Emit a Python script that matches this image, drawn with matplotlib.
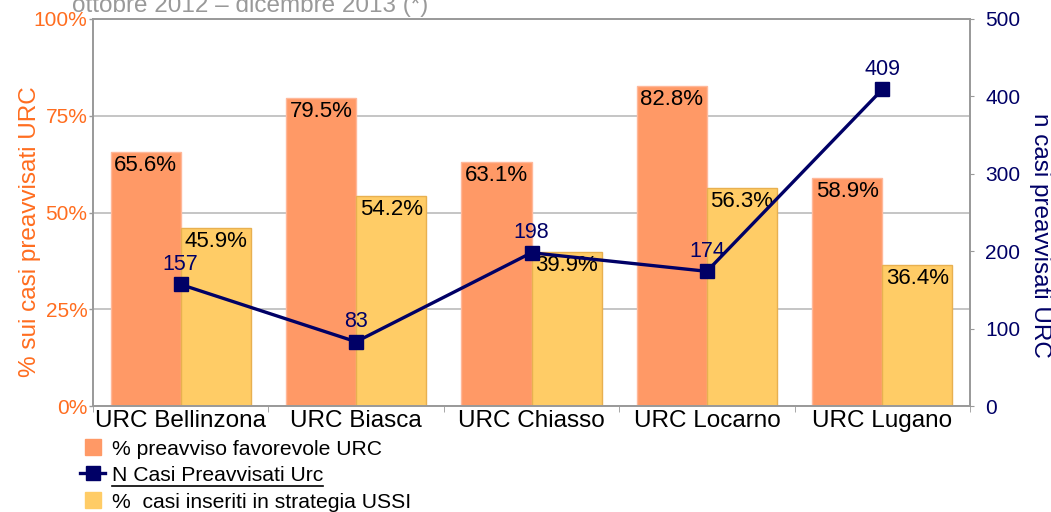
import matplotlib.pyplot as plt
import numpy as np
from matplotlib.lines import Line2D

categories = ["URC Bellinzona", "URC Biasca", "URC Chiasso", "URC Locarno", "URC Lugano"]
pct_favorevole = [65.6, 79.5, 63.1, 82.8, 58.9]
pct_ussi = [45.9, 54.2, 39.9, 56.3, 36.4]
n_casi = [157, 83, 198, 174, 409]

ORANGE = "#FF9966"
YELLOW = "#FFCC66"
NAVY = "#000066"
AXIS_ORANGE = "#FF6D1F"

plt.rcParams['font.family'] = ['Liberation Sans', 'DejaVu Sans']

fig = plt.figure(figsize=(10.51, 5.12), dpi=100)
ax = fig.add_axes([93 / 1051, 106 / 512, 877 / 1051, 387 / 512])
ax2 = ax.twinx()

x = np.arange(len(categories))
w = 0.4

ax.bar(x - w / 2, pct_favorevole, w, color=ORANGE, edgecolor="#FFB89A", linewidth=1, zorder=2)
ax.bar(x + w / 2, pct_ussi, w, color=YELLOW, edgecolor="#E8B050", linewidth=1, zorder=2)

for i in range(len(categories)):
    ax.text(x[i] - w / 2, pct_favorevole[i] - 0.8, f"{pct_favorevole[i]:.1f}%",
            ha="center", va="top", fontsize=16, color="black", zorder=3)
    ax.text(x[i] + w / 2, pct_ussi[i] - 0.8, f"{pct_ussi[i]:.1f}%",
            ha="center", va="top", fontsize=16, color="black", zorder=3)

ax.set_xlim(-0.5, len(categories) - 0.5)
ax.set_ylim(0, 100)
ax.set_yticks([0, 25, 50, 75, 100])
ax.set_yticklabels(["0%", "25%", "50%", "75%", "100%"])
ax.yaxis.grid(True, color="#BBBBBB", linewidth=1.2, zorder=0)
ax.set_axisbelow(True)
ax.tick_params(axis="y", colors=AXIS_ORANGE, labelsize=15, length=3, width=1, pad=1)
ax.tick_params(axis="y", color="#999999")
ax.set_xticks(x)
ax.set_xticklabels(categories, fontsize=17.5)
ax.tick_params(axis="x", length=0, pad=3)
ax.set_xticks(np.arange(len(categories) + 1) - 0.5, minor=True)
ax.tick_params(axis="x", which="minor", length=4, color="#999999")
ax.set_ylabel("% sui casi preavvisati URC", color=AXIS_ORANGE, fontsize=17.5)
ax.yaxis.label.set_va("center")
ax.yaxis.set_label_coords(-0.072, 0.45)

# line on secondary axis
ax2.plot(x, n_casi, color=NAVY, linewidth=2.4, marker="s", markersize=10, zorder=5)
for i in range(len(categories)):
    ax2.text(x[i], n_casi[i] + 12, str(n_casi[i]), ha="center", va="bottom",
             fontsize=15.5, color=NAVY)
ax2.set_ylim(0, 500)
ax2.set_yticks([0, 100, 200, 300, 400, 500])
ax2.tick_params(axis="y", colors=NAVY, labelsize=15, length=3, pad=8)
ax2.tick_params(axis="y", color="#999999")
ax2.set_ylabel("n casi preavvisati URC", color=NAVY, fontsize=17.5, rotation=270)
ax2.yaxis.label.set_va("center")
ax2.yaxis.set_label_coords(1.080, 0.44)

for a in (ax, ax2):
    for s in a.spines.values():
        s.set_color("#999999")
        s.set_linewidth(1.2)

# title, clipped at top like in the source
fig.text(72 / 1051, 1 - 12 / 512, "ottobre 2012 \u2013 dicembre 2013 (*)", fontsize=17.5,
         color="#999999", ha="left", va="baseline")

handles = [
    Line2D([0], [0], color=ORANGE, linestyle="none", marker="s", markersize=11),
    Line2D([0], [0], color=NAVY, linewidth=2.4, marker="s", markersize=10),
    Line2D([0], [0], color=YELLOW, linestyle="none", marker="s", markersize=11),
]
labels = ["% preavviso favorevole URC", "N Casi Preavvisati Urc", "%  casi inseriti in strategia USSI"]
leg = fig.legend(handles, labels, loc="upper left", bbox_to_anchor=(80 / 1051, 1 - 439 / 512),
                 frameon=False, fontsize=15.2, handlelength=1.2, handleheight=0.9,
                 handletextpad=0.3, labelspacing=0.3, borderpad=0, borderaxespad=0)

# underline under the second legend entry
fig.canvas.draw()
bb = leg.get_texts()[1].get_window_extent()
y_ul = (bb.y0 - 1) / fig.bbox.height
fig.add_artist(Line2D([bb.x0 / fig.bbox.width, bb.x1 / fig.bbox.width], [y_ul, y_ul],
                      color="black", linewidth=1.2))

fig.savefig("out.png", dpi=100)
